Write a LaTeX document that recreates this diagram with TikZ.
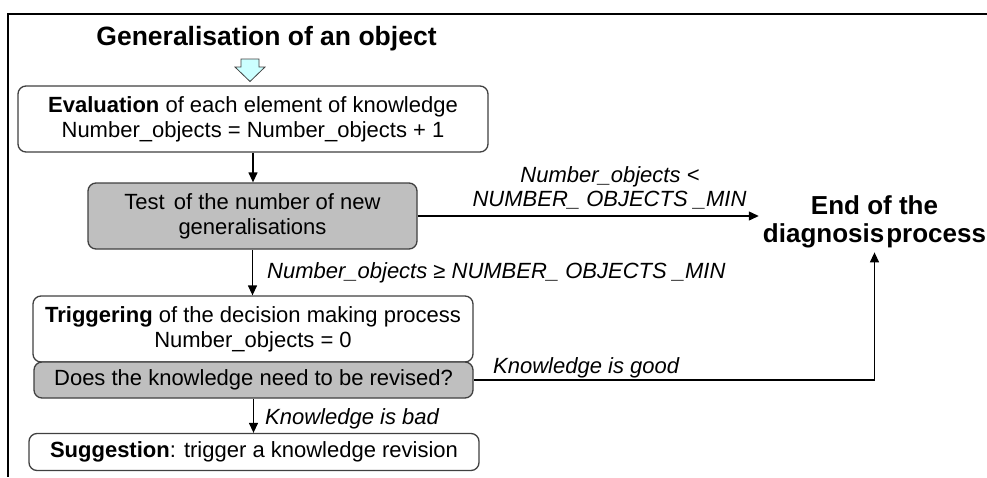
\documentclass[tikz,border=0pt]{standalone}
\usepackage{fontspec}
\setmainfont{Liberation Sans}
\usetikzlibrary{arrows.meta}
\definecolor{boxgray}{RGB}{191,191,191}
\definecolor{edgegray}{RGB}{64,64,64}
\definecolor{paleblue}{RGB}{204,255,255}
\begin{document}
\begin{tikzpicture}[x=1pt,y=-1pt,
  box/.style={draw=edgegray, line width=1.3pt, rounded corners=8pt, fill=white, align=center, inner sep=0pt, font=\fontsize{22}{25}\selectfont},
  graybox/.style={box, fill=boxgray},
  arr/.style={draw=black, line width=1.3pt, -{Triangle[length=10pt,width=9pt]}},
  lbl/.style={font=\fontsize{22}{25}\selectfont\itshape, inner sep=0pt}]
\useasboundingbox (0,0) rectangle (987,477);
% frame
\draw[line width=2pt] (987,14) -- (7.5,14) -- (7.5,477);
% title
\node[font=\fontsize{26.5}{30}\selectfont\bfseries, anchor=base, inner sep=0pt] (title) at (266.5,45) {Generalisation of an object};
% block arrow
\draw[draw=edgegray, line width=0.8pt, fill=paleblue] (241,59) -- (259,59) -- (259,67) -- (265,67) -- (250,81.5) -- (235,67) -- (241,67) -- cycle;
% boxes
\node[box, minimum width=470pt, minimum height=66pt] (eval) at (253,119) {\textbf{Evaluation} of each element of knowledge\\Number\_objects = Number\_objects + 1};
\node[graybox, minimum width=329pt, minimum height=66pt] (test) at (252.5,216) {Test\hspace{3pt} of the number of new\\generalisations};
\node[box, minimum width=440pt, minimum height=66pt] (trig) at (253,329) {\textbf{Triggering} of the decision making process\\Number\_objects = 0};
\node[graybox, minimum width=439pt, minimum height=36pt] (ask) at (253.5,380) {Does the knowledge need to be revised?};
\node[box, minimum width=450pt, minimum height=37pt] (sugg) at (254,452) {\textbf{Suggestion}: trigger a knowledge revision};
% end node
\node[font=\fontsize{26}{28}\selectfont\bfseries, align=center, inner sep=4pt] (endn) at (874.5,222) {End of the\\diagnosis\hspace{2pt}process};
% labels
\node[lbl, anchor=base] (lt1) at (610,182.5) {Number\_objects <};
\node[lbl, anchor=base] (lt2) at (609.5,206) {NUMBER\_ OBJECTS \_MIN};
\node[lbl, anchor=base west] (lge) at (267,278) {Number\_objects ≥ NUMBER\_ OBJECTS \_MIN};
\node[lbl, anchor=base west] (lgood) at (493,373) {Knowledge is good};
\node[lbl, anchor=base west] (lbad) at (265,424) {Knowledge is bad};
% connectors
\draw[arr] (eval.south) -- (eval.south |- test.north);
\draw[arr] (test.east) -- (test.east -| endn.west);
\draw[arr] (test.south) -- (test.south |- trig.north);
\draw[arr] (ask.south) -- (ask.south |- sugg.north);
\draw[arr] (ask.east) -| (endn.south);
\end{tikzpicture}
\end{document}
